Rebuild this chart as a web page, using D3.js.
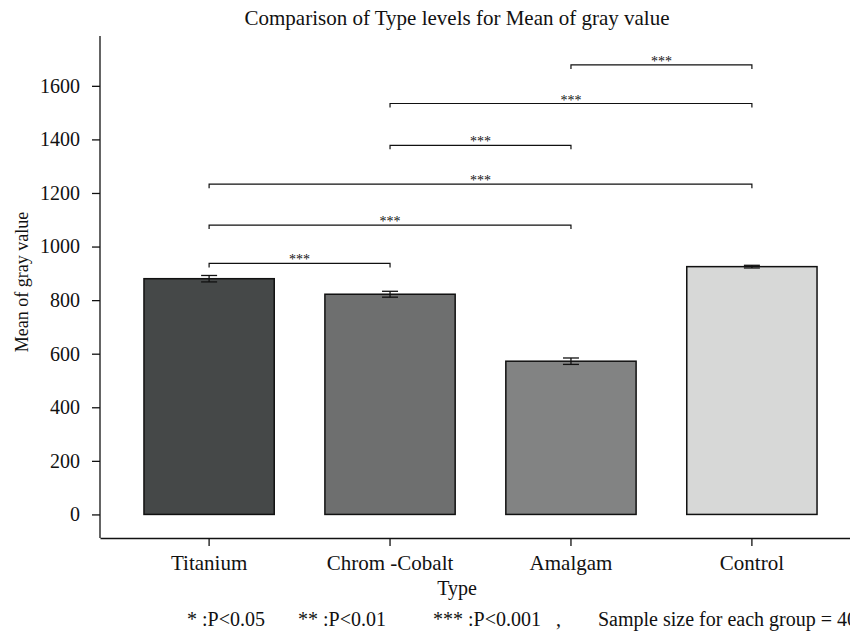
<!DOCTYPE html>
<html>
<head>
<meta charset="utf-8">
<script src="https://cdn.jsdelivr.net/npm/d3@7"></script>
<style>
  body { margin: 0; background: #fff; }
  svg text { font-family: "Liberation Serif", "DejaVu Serif", serif; fill: #111; }
</style>
</head>
<body>
<div id="chart"></div>
<script>
// values
const categories = ["Titanium", "Chrom -Cobalt", "Amalgam", "Control"];
const means = [880, 822, 572, 925];
const errors = [12, 11, 12, 5];
const barColors = ["#454848", "#6e6f6f", "#828383", "#d7d8d7"];
const yTicks = [0, 200, 400, 600, 800, 1000, 1200, 1400, 1600];
// significance brackets: [from, to, height, label]
const brackets = [
  ["Titanium", "Chrom -Cobalt", 937, "***"],
  ["Titanium", "Amalgam", 1080, "***"],
  ["Titanium", "Control", 1233, "***"],
  ["Chrom -Cobalt", "Amalgam", 1378, "***"],
  ["Chrom -Cobalt", "Control", 1534, "***"],
  ["Amalgam", "Control", 1678, "***"]
];
const footnotes = ["* :P<0.05", "** :P<0.01", "*** :P<0.001", ",", "Sample size for each group = 40"];

const width = 850, height = 632;
const serif = "Liberation Serif, DejaVu Serif, serif";

const svg = d3.select("#chart").append("svg")
  .attr("width", width)
  .attr("height", height);

const x = d3.scaleBand()
  .domain(categories)
  .range([100, 861])
  .paddingInner(0.28)
  .paddingOuter(0.243);

const y = d3.scaleLinear()
  .domain([-88, 1786])
  .range([538, 36]);

// title
svg.append("text")
  .attr("x", 457)
  .attr("y", 25)
  .attr("text-anchor", "middle")
  .style("font-size", "21px")
  .text("Comparison of Type levels for Mean of gray value");

// y axis
svg.append("line")
  .attr("x1", 100).attr("x2", 100)
  .attr("y1", y.range()[1]).attr("y2", y.range()[0])
  .attr("stroke", "#111").attr("stroke-width", 1.3);

const yAxis = svg.append("g")
  .attr("transform", "translate(100,0)")
  .attr("font-family", serif)
  .call(d3.axisLeft(y).tickValues(yTicks).tickFormat(d3.format("d")).tickSize(8).tickPadding(12));
yAxis.select(".domain").remove();
yAxis.selectAll(".tick line").attr("stroke", "#111").attr("stroke-width", 1.3);
yAxis.selectAll(".tick text")
  .attr("font-size", 20)
  .attr("fill", "#111");

// x axis
const xAxis = svg.append("g")
  .attr("transform", "translate(0,538)")
  .attr("font-family", serif)
  .call(d3.axisBottom(x).tickSize(8).tickSizeOuter(0).tickPadding(9));
xAxis.select(".domain").attr("stroke", "#111").attr("stroke-width", 1.3);
xAxis.selectAll(".tick line").attr("stroke", "#111").attr("stroke-width", 1.3);
xAxis.selectAll(".tick text")
  .attr("font-size", 21)
  .attr("fill", "#111");

// axis titles
svg.append("text")
  .attr("transform", "translate(28,282) rotate(-90)")
  .attr("text-anchor", "middle")
  .style("font-size", "18px")
  .text("Mean of gray value");

svg.append("text")
  .attr("x", 457)
  .attr("y", 595)
  .attr("text-anchor", "middle")
  .style("font-size", "20px")
  .text("Type");

// bars
svg.selectAll("rect.bar")
  .data(categories)
  .join("rect")
  .attr("class", "bar")
  .attr("x", (d) => x(d))
  .attr("y", (d, i) => y(means[i]))
  .attr("width", x.bandwidth())
  .attr("height", (d, i) => y(0) - y(means[i]))
  .attr("fill", (d, i) => barColors[i])
  .attr("stroke", "#111")
  .attr("stroke-width", 1.5);

// error bars
const err = svg.selectAll("g.err")
  .data(categories)
  .join("g")
  .attr("class", "err")
  .attr("transform", (d) => `translate(${x(d) + x.bandwidth() / 2},0)`);
err.append("line")
  .attr("y1", (d, i) => y(means[i] + errors[i]))
  .attr("y2", (d, i) => y(means[i] - errors[i]))
  .attr("stroke", "#111").attr("stroke-width", 1.3);
err.append("line")
  .attr("x1", -8).attr("x2", 8)
  .attr("y1", (d, i) => y(means[i] + errors[i]))
  .attr("y2", (d, i) => y(means[i] + errors[i]))
  .attr("stroke", "#111").attr("stroke-width", 1.3);
err.append("line")
  .attr("x1", -8).attr("x2", 8)
  .attr("y1", (d, i) => y(means[i] - errors[i]))
  .attr("y2", (d, i) => y(means[i] - errors[i]))
  .attr("stroke", "#111").attr("stroke-width", 1.3);

// significance brackets
const cx = (c) => x(c) + x.bandwidth() / 2;
const br = svg.selectAll("g.bracket")
  .data(brackets)
  .join("g")
  .attr("class", "bracket");
br.append("path")
  .attr("d", (d) => {
    const x1 = cx(d[0]), x2 = cx(d[1]), yy = y(d[2]);
    return `M${x1},${yy + 4}V${yy}H${x2}V${yy + 4}`;
  })
  .attr("fill", "none")
  .attr("stroke", "#111")
  .attr("stroke-width", 1.2);
br.append("text")
  .attr("x", (d) => (cx(d[0]) + cx(d[1])) / 2)
  .attr("y", (d) => y(d[2]) + 1)
  .attr("text-anchor", "middle")
  .style("font-size", "14px")
  .text((d) => d[3]);

// footnote
const footX = [187, 298, 433, 556, 598];
svg.selectAll("text.foot")
  .data(footnotes)
  .join("text")
  .attr("class", "foot")
  .attr("x", (d, i) => footX[i])
  .attr("y", 626)
  .style("font-size", "20px")
  .text((d) => d);
</script>
</body>
</html>
